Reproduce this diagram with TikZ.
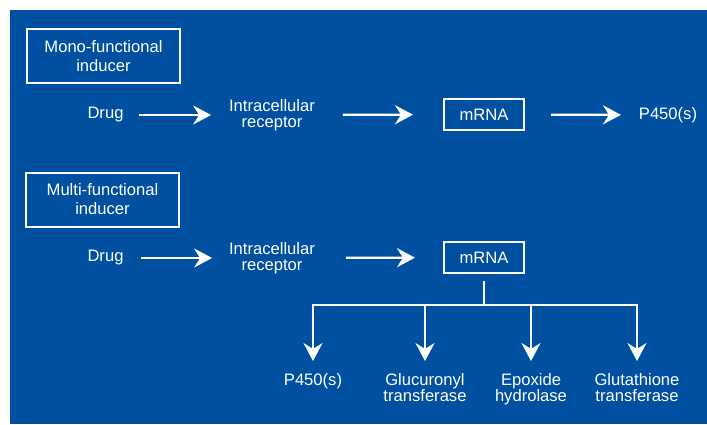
\documentclass[tikz,border=0pt]{standalone}
\usepackage{fontspec}
\setmainfont{Liberation Sans}
\usetikzlibrary{arrows.meta}
\definecolor{bgblue}{RGB}{0,80,162}
\tikzset{
  label/.style={text=white,align=center,inner sep=0pt,outer sep=0pt,
    font=\fontsize{16.6}{16.5}\selectfont},
  inducer/.style={draw=white,line width=2pt,text=white,align=center,
    minimum width=153pt,minimum height=54pt,font=\fontsize{16.6}{19}\selectfont},
  rna/.style={draw=white,line width=2pt,text=white,
    minimum width=80pt,minimum height=31pt,font=\fontsize{16.6}{19}\selectfont},
  arr/.style={draw=white,line width=2.3pt,-{Stealth[length=18pt,width=19pt,inset=6pt]}},
  wire/.style={draw=white,line width=2.3pt}
}
\begin{document}
\begin{tikzpicture}[x=1pt,y=-1pt]
\useasboundingbox (0,0) rectangle (707,424);
\fill[white] (0,0) rectangle (707,424);
\fill[bgblue] (10,10) rectangle (707,424);

% mono-functional
\node[inducer] (mono) at (103.5,56) {Mono-functional\\inducer};
\node[label] (drugA) at (105.5,115) {Drug};
\node[label] (recA) at (272,115) {Intracellular\\receptor};
\node[rna] (mrnaA) at (484,114.5) {mRNA};
\node[label] (pA) at (668,115) {P450(s)};

% multi-functional
\node[inducer] (multi) at (102.5,199.5) {Multi-functional\\inducer};
\node[label] (drugB) at (105.5,258) {Drug};
\node[label] (recB) at (272,258) {Intracellular\\receptor};
\node[rna] (mrnaB) at (484,257.5) {mRNA};
\coordinate (fork) at (484,305);

% products
\node[label,anchor=north] (outP) at (313,373) {P450(s)};
\node[label,anchor=north] (outG) at (425,373) {Glucuronyl\\transferase};
\node[label,anchor=north] (outE) at (531,373) {Epoxide\\hydrolase};
\node[label,anchor=north] (outT) at (637,373) {Glutathione\\transferase};

\begin{scope}[every edge/.style={arr}]
  \path (drugA) edge[shorten <=16pt,shorten >=18pt] (recA);
  \path (recA) edge[shorten <=28pt,shorten >=30pt] (mrnaA);
  \path (mrnaA) edge[shorten <=26pt,shorten >=18pt] (pA);
  \path (drugB) edge[shorten <=18pt,shorten >=17pt] (recB);
  \path (recB) edge[shorten <=31pt,shorten >=28pt] (mrnaB);
\end{scope}

\draw[wire,shorten <=7pt] (mrnaB) -- (fork);
\begin{scope}[shorten >=12pt]
  \draw[arr] (fork) -| (outP);
  \draw[arr] (fork) -| (outG);
  \draw[arr] (fork) -| (outE);
  \draw[arr] (fork) -| (outT);
\end{scope}
\end{tikzpicture}
\end{document}
